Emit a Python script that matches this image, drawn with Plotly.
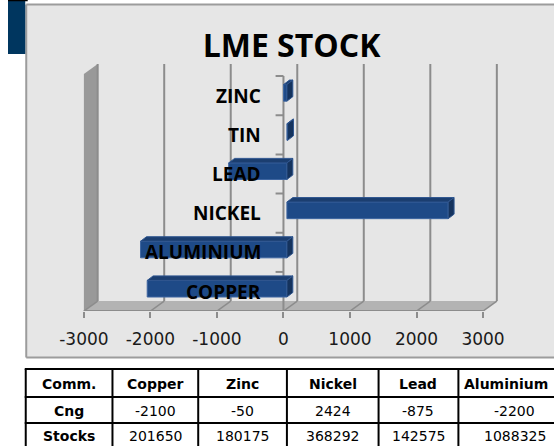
import plotly.graph_objects as go

# ---------------- data ----------------
chart_labels = ["COPPER", "ALUMINIUM", "NICKEL", "LEAD", "TIN", "ZINC"]
chart_values = [-2100, -2200, 2424, -875, 10, -50]
axis_ticks = [-3000, -2000, -1000, 0, 1000, 2000, 3000]
axis_tick_text = ["-3000", "-2000", "-1000", "0", "1000", "2000", "3000"]

table_header = ["Comm.", "Copper", "Zinc", "Nickel", "Lead", "Aluminium"]
table_rows = ["Cng", "Stocks"]
cng = [-2100, -50, 2424, -875, -2200]
stocks = [201650, 180175, 368292, 142575, 1088325]

# ---------------- geometry (pixels -> data units) ----------------
W, H = 554, 446
KX = 67.5 / 1000          # px per value unit
ZERO_PX = 279.5           # px of value 0 on the front plane
KY = 39.17                # px per category
Y0_PX = 291.5             # px of first category centre
PLOT_L, PLOT_R, PLOT_T = 60, 510, 50
PLOT_B = Y0_PX + 0.5 * KY

xr = [(PLOT_L - ZERO_PX) / KX, (PLOT_R - ZERO_PX) / KX]
yr = [-0.5, -0.5 + (PLOT_B - PLOT_T) / KY]

DX, DY = 14 / KX, 10 / KY              # full depth of the 3-D box
WALL_TOP = (Y0_PX - 64) / KY
FX, FY = 3.5 / KX, 2.8 / KY            # bar front-face offset
BH = 8.3 / KY                          # bar half height
BDX, BDY = 6 / KX, 4.5 / KY            # bar depth
TICK8 = 8 / KX                         # category tick length

GRID = "#8c8c8c"
PANEL_LINE = "#9c9c9c"
xmin, xmax = axis_ticks[0], axis_ticks[-1]
fl = -0.5

# table layout (pixels)
COL_EDGES = [18, 106, 193, 283, 376, 457]
COL_CENTRES = [62, 149.5, 238, 329.5, 416.5, 505]
LAST_VALUE_CENTRE = 514
ROW_EDGES = [369, 397, 423]
ROW_CENTRES = [384, 410.5, 436]

def px_x(p):
    return p / W

def px_y(p):
    return 1 - p / H

shapes = [
    dict(type="rect", xref="paper", yref="paper", x0=px_x(18.5), x1=1,
         y0=px_y(357.5), y1=px_y(4.5), fillcolor="#e6e6e6",
         line=dict(width=0), layer="below"),
    dict(type="line", xref="paper", yref="paper", x0=px_x(18.5), x1=1,
         y0=px_y(4.5), y1=px_y(4.5), line=dict(color=PANEL_LINE, width=2), layer="below"),
    dict(type="line", xref="paper", yref="paper", x0=px_x(18.5), x1=1,
         y0=px_y(357.5), y1=px_y(357.5), line=dict(color=PANEL_LINE, width=2), layer="below"),
    dict(type="line", xref="paper", yref="paper", x0=px_x(18.5), x1=px_x(18.5),
         y0=px_y(357.5), y1=px_y(4.5), line=dict(color=PANEL_LINE, width=2), layer="below"),
    dict(type="rect", xref="paper", yref="paper", x0=0, x1=px_x(17.5),
         y0=px_y(54), y1=1, fillcolor="#00365f", line=dict(width=0), layer="below"),
    dict(type="line", xref="paper", yref="paper", x0=0, x1=px_x(20),
         y0=px_y(0.5), y1=px_y(0.5), line=dict(color="black", width=1.5)),
    dict(type="path", xref="x", yref="y", layer="below", fillcolor="#999999",
         line=dict(width=0),
         path=f"M{xmin},{fl} L{xmin+DX},{fl+DY} L{xmin+DX},{WALL_TOP} L{xmin},{WALL_TOP-DY} Z"),
    dict(type="path", xref="x", yref="y", layer="below", fillcolor="#b3b3b3",
         line=dict(width=0),
         path=f"M{xmin},{fl} L{xmax},{fl} L{xmax+DX},{fl+DY} L{xmin+DX},{fl+DY} Z"),
    dict(type="line", xref="x", yref="y", layer="below", x0=xmin, x1=xmax, y0=fl, y1=fl,
         line=dict(color=GRID, width=2)),
]
for t in axis_ticks:
    shapes.append(dict(type="line", xref="x", yref="y", layer="below",
                       x0=t + DX, x1=t + DX, y0=fl + DY, y1=WALL_TOP,
                       line=dict(color=GRID, width=2)))
    shapes.append(dict(type="line", xref="x", yref="y", layer="below",
                       x0=t, x1=t + DX, y0=fl, y1=fl + DY,
                       line=dict(color=GRID, width=1.5)))
# category axis on the front plane: line + boundary ticks
shapes.append(dict(type="line", xref="x", yref="y", layer="below",
                   x0=0, x1=0, y0=fl, y1=len(chart_labels) - 0.5,
                   line=dict(color=GRID, width=2)))
for i in range(len(chart_labels) + 1):
    shapes.append(dict(type="line", xref="x", yref="y",
                       x0=-TICK8, x1=0, y0=i - 0.5, y1=i - 0.5,
                       line=dict(color=GRID, width=2)))

annotations = []
# category labels, anchored at value 0 of the front plane
for i, lab in enumerate(chart_labels):
    annotations.append(dict(xref="x", yref="y", x=0, y=i, text=lab, showarrow=False,
                            xanchor="right", yanchor="middle", xshift=-20,
                            font=dict(family="Open Sans", size=19, color="black", weight="bold")))

# table grid
for ry in ROW_EDGES:
    shapes.append(dict(type="line", xref="paper", yref="paper", x0=px_x(COL_EDGES[0] - 1), x1=1,
                       y0=px_y(ry), y1=px_y(ry), line=dict(color="black", width=2)))
for cx in COL_EDGES:
    shapes.append(dict(type="line", xref="paper", yref="paper", x0=px_x(cx), x1=px_x(cx),
                       y0=0, y1=px_y(ROW_EDGES[0]), line=dict(color="black", width=2)))

# table text
table_body = [table_rows] + [[str(c), str(s)] for c, s in zip(cng, stocks)]
for j, head in enumerate(table_header):
    annotations.append(dict(xref="paper", yref="paper", x=px_x(COL_CENTRES[j]),
                            y=px_y(ROW_CENTRES[0]), text=head, showarrow=False,
                            xanchor="center", yanchor="middle",
                            font=dict(family="DejaVu Sans", size=14, color="black", weight="bold")))
for j, col in enumerate(table_body):
    cxp = COL_CENTRES[j] if j < len(table_body) - 1 else LAST_VALUE_CENTRE
    for r, val in enumerate(col):
        annotations.append(dict(xref="paper", yref="paper", x=px_x(cxp),
                                y=px_y(ROW_CENTRES[r + 1]), text=val, showarrow=False,
                                xanchor="center", yanchor="middle",
                                font=dict(family="DejaVu Sans", size=14, color="black",
                                          weight="bold" if j == 0 else "normal")))

# ---------------- bars ----------------
ypos = [i + FY for i in range(len(chart_labels))]
fig = go.Figure()
fig.add_trace(go.Bar(orientation="h", y=ypos, x=chart_values, base=FX, width=2 * BH,
                     marker=dict(color="#1e4a87", line=dict(color="#3d65a0", width=1)),
                     hoverinfo="skip", showlegend=False))

top_x, top_y, side_x, side_y = [], [], [], []
for yc, v in zip(ypos, chart_values):
    a, b = min(FX, FX + v), max(FX, FX + v)
    yt, yb = yc + BH, yc - BH
    top_x += [a, b, b + BDX, a + BDX, a, None]
    top_y += [yt, yt, yt + BDY, yt + BDY, yt, None]
    side_x += [b, b, b + BDX, b + BDX, b, None]
    side_y += [yb, yt, yt + BDY, yb + BDY, yb, None]

fig.add_trace(go.Scatter(x=top_x, y=top_y, mode="lines", fill="toself",
                         fillcolor="#1b3e70", line=dict(color="#2f5690", width=1),
                         hoverinfo="skip", showlegend=False))
fig.add_trace(go.Scatter(x=side_x, y=side_y, mode="lines", fill="toself",
                         fillcolor="#15335d", line=dict(color="#2f5690", width=1),
                         hoverinfo="skip", showlegend=False))

fig.update_layout(
    width=W, height=H, margin=dict(l=0, r=0, t=0, b=0),
    paper_bgcolor="white", plot_bgcolor="rgba(0,0,0,0)",
    shapes=shapes, annotations=annotations, showlegend=False,
    title=dict(text="LME STOCK", x=px_x(291.5), xanchor="center",
               y=px_y(45.5), yanchor="middle",
               font=dict(family="Open Sans", size=32, color="black", weight="bold")),
    xaxis=dict(domain=[px_x(PLOT_L), px_x(PLOT_R)], range=xr, tickvals=axis_ticks,
               ticktext=axis_tick_text, ticks="outside", ticklen=6, tickwidth=1.5,
               tickcolor=GRID, showgrid=False, zeroline=False, showline=False,
               ticklabelstandoff=7, fixedrange=True,
               tickfont=dict(family="DejaVu Sans", size=17, color="#1a1a1a")),
    yaxis=dict(domain=[px_y(PLOT_B), px_y(PLOT_T)], range=yr, visible=False,
               fixedrange=True),
)

fig.write_html("out.html")
